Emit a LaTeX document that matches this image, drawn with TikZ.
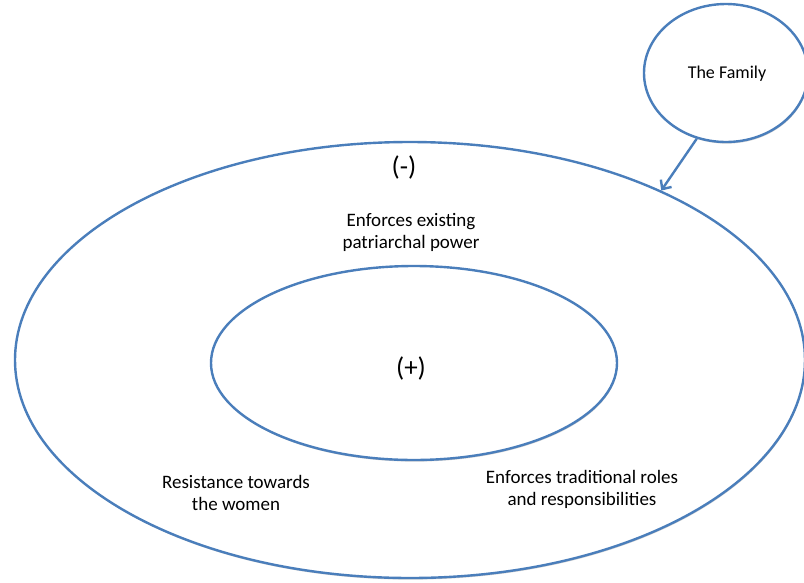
\documentclass[tikz,border=0pt]{standalone}
\usepackage{fontspec}
\setmainfont{Carlito}
\usetikzlibrary{shapes.geometric,arrows.meta,shadows}
\definecolor{ringblue}{RGB}{74,126,187}
\tikzset{
  ring/.style={ellipse, draw=ringblue, line width=2.4pt, inner sep=0pt, fill=white,
    drop shadow={shadow xshift=0.6pt, shadow yshift=-1.6pt, opacity=0.18, fill=black}},
  label/.style={font=\fontsize{19}{22}\selectfont, align=center, text=black},
  sign/.style={font=\fontsize{27}{30}\selectfont, text=black},
  link/.style={draw=ringblue, line width=2.4pt,
    -{Straight Barb[length=7pt,width=13pt,line width=2.4pt]}}
}
\begin{document}
\begin{tikzpicture}[x=1pt,y=-1pt]
  \useasboundingbox (0,0) rectangle (804,582);
  % outer ring, inner ring and the family
  \node[ring, minimum width=790pt, minimum height=436pt] (outer) at (410,360) {};
  \node[ring, minimum width=406pt, minimum height=194pt] (inner) at (414,363) {};
  \node[ring, minimum width=164pt, minimum height=138pt] (fam) at (726,73) {};
  \node[font=\fontsize{18}{21}\selectfont] (famtext) at (727,74) {The Family};
  % influence of the family on the outer ring
  \draw[link] (fam.246) -- (outer.34.5);
  % signs
  \node[sign] (minus) at (404,167) {(-)};
  \node[sign] (plus) at (411,368) {(+)};
  % descriptions
  \node[label] (patr) at (411,232) {Enforces existing\\patriarchal power};
  \node[label] (resist) at (236,493) {Resistance towards\\the women};
  \node[label] (roles) at (582,489) {Enforces traditional roles\\and responsibilities};
\end{tikzpicture}
\end{document}
